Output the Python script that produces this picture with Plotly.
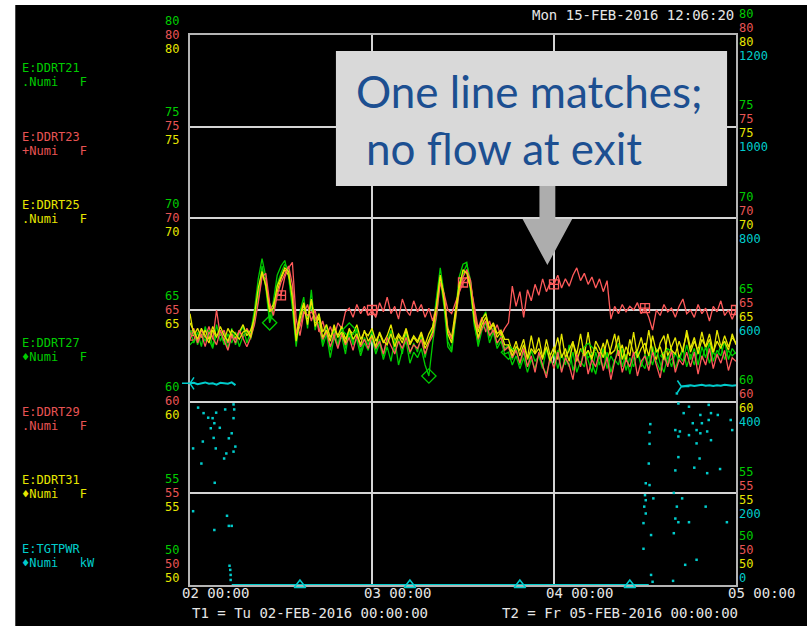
import pandas as pd
import plotly.graph_objects as go

# ---------------------------------------------------------------------------
# Archived readings, one sample every 30 minutes from 02-FEB-2016 00:00
# (12 samples = 6 hours per row, final sample at 05-FEB-2016 00:00)
# ---------------------------------------------------------------------------
STEP_H = 0.5
T1 = pd.Timestamp("2016-02-02 00:00:00")

ddrt21 = [
    63.9, 63.2, 63.8, 63.0, 64.1, 63.4, 62.9, 64.2, 63.3, 63.8, 62.9, 64.0,
    63.1, 63.7, 64.1, 63.2, 63.8, 65.0, 66.7, 67.8, 66.8, 64.4, 65.5, 66.9,
    67.4, 67.7, 66.8, 65.1, 63.0, 64.9, 65.7, 64.0, 66.1, 63.9, 64.8, 63.2,
    64.2, 62.8, 63.9, 63.1, 64.1, 62.9, 63.8, 63.2, 64.0, 62.7, 63.5, 63.1,
    63.9, 62.8, 63.4, 62.5, 63.3, 63.9, 62.7, 63.4, 62.6, 63.8, 62.6, 63.2,
    62.7, 63.6, 62.4, 63.3, 64.0, 65.6, 67.3, 65.9, 63.3, 62.8, 65.0, 66.8,
    67.5, 67.6, 66.0, 64.1, 63.2, 64.5, 64.9, 63.5, 64.0, 63.1, 63.6, 62.9,
    63.0, 62.3, 62.9, 62.0, 62.7, 61.9, 62.8, 62.2, 62.5, 61.8, 62.9, 62.1,
    62.7, 61.8, 62.6, 62.0, 63.1, 61.7, 62.4, 62.0, 62.9, 62.2, 61.6, 62.7,
    62.0, 62.9, 61.8, 62.5, 62.1, 63.2, 61.9, 62.6, 61.5, 62.4, 62.8, 61.9,
    62.6, 62.0, 63.0, 62.2, 61.7, 62.7, 62.1, 62.9, 61.8, 62.5, 62.2, 63.1,
    62.3, 62.9, 62.0, 63.0, 62.4, 63.2, 62.2, 62.8, 62.5, 63.3, 62.3, 62.9,
    62.6,
]

ddrt23 = [
    63.6, 64.0, 63.3, 63.9, 63.5, 64.1, 63.4, 65.0, 63.6, 63.9, 63.2, 63.7,
    63.4, 63.9, 63.5, 64.0, 63.6, 64.4, 65.6, 66.9, 66.7, 65.2, 65.0, 65.9,
    65.8, 66.8, 67.3, 67.6, 64.5, 63.6, 64.8, 65.3, 64.4, 65.0, 63.8, 64.4,
    63.6, 64.1, 63.5, 64.3, 64.0, 64.9, 65.1, 64.6, 65.3, 64.8, 65.2, 64.7,
    65.0, 64.6, 65.4, 64.9, 65.7, 64.8, 65.2, 64.5, 65.6, 65.0, 64.7, 65.5,
    64.9, 65.3, 64.6, 65.1, 64.4, 65.2, 66.6, 65.9, 65.0, 64.8, 65.4, 66.0,
    66.5, 66.8, 66.3, 65.2, 64.0, 64.6, 63.8, 64.4, 63.7, 64.2, 63.6, 64.0,
    64.3, 66.3, 65.2, 66.0, 64.6, 66.1, 65.5, 66.4, 65.8, 66.7, 66.0, 66.5,
    66.4, 66.9, 66.2, 66.7, 66.3, 66.9, 67.3, 66.6, 67.0, 66.4, 66.8, 66.2,
    66.7, 66.0, 66.6, 64.5, 65.2, 64.8, 65.3, 64.9, 65.2, 65.0, 65.4, 64.8,
    65.1, 64.6, 63.9, 65.0, 64.7, 65.3, 64.9, 65.1, 64.6, 65.2, 65.6, 64.8,
    65.0, 64.6, 65.3, 64.8, 65.1, 64.4, 65.2, 64.9, 65.5, 64.7, 65.0, 64.5,
    65.0,
]

ddrt25 = [
    64.8, 63.6, 64.0, 63.5, 63.9, 63.4, 64.1, 63.6, 63.8, 63.3, 64.0, 63.6,
    63.5, 63.8, 64.2, 63.6, 63.9, 64.5, 65.9, 67.0, 66.4, 65.0, 65.3, 66.0,
    66.7, 67.2, 66.9, 65.9, 63.6, 64.7, 65.4, 64.5, 65.5, 64.3, 64.8, 63.8,
    64.2, 63.5, 64.0, 63.6, 64.1, 63.4, 63.9, 63.7, 64.2, 63.4, 63.8, 63.6,
    64.0, 63.3, 63.7, 63.2, 63.6, 64.2, 63.3, 63.7, 63.4, 64.0, 63.2, 63.6,
    63.3, 63.8, 63.1, 63.7, 64.1, 65.1, 66.8, 65.8, 64.0, 63.5, 64.9, 66.4,
    67.0, 67.1, 66.5, 64.8, 63.8, 64.5, 64.8, 64.0, 64.3, 63.7, 63.9, 63.4,
    63.4, 62.7, 63.3, 62.5, 63.1, 62.4, 63.6, 62.6, 62.9, 62.3, 63.4, 62.5,
    63.0, 62.3, 63.7, 62.4, 62.8, 63.3, 62.2, 62.9, 62.5, 63.8, 62.4, 63.0,
    62.5, 63.2, 62.3, 62.9, 63.7, 62.5, 63.1, 62.2, 63.4, 62.6, 62.8, 63.5,
    62.6, 63.9, 62.7, 62.3, 63.2, 63.6, 62.5, 63.0, 63.5, 62.4, 62.9, 63.7,
    62.7, 63.3, 62.8, 63.8, 62.9, 63.4, 62.6, 63.9, 63.0, 63.3, 62.8, 63.7,
    63.1,
]

ddrt27 = [
    63.5, 63.9, 63.1, 63.7, 63.3, 63.9, 63.0, 63.6, 63.8, 63.1, 63.7, 63.2,
    63.8, 63.0, 63.6, 63.9, 63.4, 64.3, 65.8, 67.4, 66.2, 64.3, 64.9, 66.4,
    67.0, 67.5, 67.2, 65.6, 63.2, 64.3, 65.0, 64.6, 65.2, 64.4, 64.3, 63.0,
    63.7, 62.4, 63.5, 63.0, 63.6, 62.6, 63.9, 63.1, 63.4, 62.5, 63.2, 62.8,
    63.5, 62.6, 63.2, 62.3, 63.0, 62.2, 63.4, 62.0, 62.8, 63.3, 62.1, 62.7,
    62.4, 62.9, 62.0, 61.4, 63.2, 64.6, 66.7, 65.2, 63.0, 62.7, 64.4, 66.1,
    67.0, 67.5, 66.6, 64.3, 63.0, 63.9, 64.3, 63.2, 63.8, 62.9, 63.3, 62.6,
    62.7, 62.0, 62.5, 61.8, 62.4, 61.6, 62.3, 61.8, 62.6, 61.9, 61.5, 62.3,
    62.0, 62.8, 61.7, 62.4, 61.9, 62.7, 61.6, 62.2, 61.9, 62.8, 62.1, 61.5,
    62.5, 61.8, 62.7, 61.6, 62.3, 62.0, 62.9, 61.7, 62.4, 61.9, 62.7, 62.1,
    61.8, 62.6, 62.0, 62.9, 62.1, 61.6, 62.5, 61.9, 62.7, 62.2, 62.9, 61.9,
    62.6, 62.0, 62.9, 62.3, 63.0, 62.1, 62.7, 62.4, 63.1, 62.3, 62.8, 62.5,
    62.7,
]

ddrt29 = [
    63.4, 63.9, 63.2, 63.7, 63.0, 63.8, 63.5, 63.1, 63.9, 63.4, 62.8, 63.6,
    63.2, 63.9, 63.4, 63.0, 63.5, 64.2, 65.4, 66.8, 67.0, 65.4, 64.7, 65.8,
    66.5, 67.0, 67.4, 66.4, 63.7, 64.1, 64.9, 64.7, 64.9, 64.6, 64.0, 63.4,
    63.8, 63.0, 63.6, 62.9, 63.7, 63.1, 63.5, 62.8, 63.6, 63.0, 63.4, 62.9,
    63.6, 62.9, 63.3, 62.6, 63.5, 63.0, 62.6, 63.3, 62.9, 63.5, 62.7, 63.1,
    62.9, 63.4, 62.6, 63.2, 63.6, 64.7, 66.5, 65.8, 63.9, 63.4, 64.5, 66.0,
    66.8, 67.2, 66.6, 64.9, 63.4, 64.0, 64.4, 63.6, 63.9, 63.2, 63.5, 62.8,
    63.0, 62.4, 62.8, 62.1, 62.9, 61.9, 62.5, 61.6, 62.7, 62.0, 61.3, 62.5,
    61.8, 62.7, 61.6, 62.4, 62.0, 61.2, 62.6, 61.9, 62.8, 61.5, 62.3, 61.9,
    62.7, 61.7, 62.4, 61.2, 62.2, 62.8, 61.6, 62.3, 61.9, 62.7, 61.4, 62.2,
    62.5, 61.7, 62.7, 62.0, 61.3, 62.6, 61.9, 62.8, 61.6, 62.3, 62.0, 62.7,
    61.9, 62.7, 61.5, 62.5, 62.0, 62.9, 61.8, 62.6, 62.1, 62.8, 61.7, 62.4,
    62.2,
]

ddrt31 = [
    64.3, 63.8, 63.4, 64.0, 63.6, 63.2, 63.9, 63.5, 64.1, 63.6, 63.3, 63.9,
    63.7, 63.4, 63.8, 63.9, 63.5, 64.7, 66.2, 67.1, 66.3, 64.9, 65.1, 66.3,
    66.8, 67.3, 67.1, 65.6, 63.3, 64.5, 65.3, 64.2, 65.6, 64.1, 64.6, 63.5,
    63.9, 63.3, 64.2, 63.5, 63.8, 63.2, 64.0, 63.4, 63.7, 63.1, 63.9, 63.3,
    63.6, 63.0, 63.8, 63.3, 63.1, 63.7, 63.0, 63.6, 63.2, 63.9, 63.1, 63.5,
    63.2, 63.7, 62.9, 63.4, 63.8, 65.2, 66.9, 65.5, 63.7, 63.2, 64.7, 66.2,
    67.2, 67.0, 66.2, 64.4, 63.5, 64.2, 64.6, 63.9, 64.2, 63.5, 63.8, 63.1,
    63.1, 62.5, 63.0, 62.8, 63.4, 62.3, 62.9, 62.6, 63.5, 62.4, 63.0, 62.2,
    62.7, 63.5, 62.4, 62.9, 62.2, 63.2, 62.6, 63.7, 62.5, 62.8, 62.3, 63.3,
    62.9, 62.4, 63.4, 62.6, 62.8, 63.6, 62.3, 63.0, 62.5, 63.8, 62.4, 62.9,
    63.2, 62.5, 63.6, 62.7, 63.0, 62.3, 63.7, 62.8, 62.6, 63.3, 62.7, 63.9,
    62.9, 63.5, 62.6, 63.4, 63.0, 63.7, 62.7, 63.3, 62.9, 63.6, 63.0, 63.5,
    63.2,
]

# Target power: beam on at start and end, off in between (None = gap)
tgt_hours = [0.0, 0.5, 1.0, 1.5, 2.0, 2.5, 3.0, 3.5, 4.0, 4.5, 5.0, 5.5, 6.0,
             None, 5.5, 60.5,
             None, 64.8, 65.5, 66.0, 66.5, 67.0, 67.5, 68.0, 68.5, 69.0, 69.5,
             70.0, 70.5, 71.0, 71.5, 72.0]
tgt_kw = [440, 441, 438, 440, 442, 439, 440, 437, 441, 440, 439, 442, 436,
          None, 0, 0,
          None, 433, 435, 436, 434, 436, 437, 435, 436, 434, 436,
          435, 437, 436, 435, 436]
tgt_mark_hours = [0.0, 14.5, 29.0, 43.5, 58.0, 64.8]
tgt_mark_kw = [440, 0, 0, 0, 0, 433]
tgt_mark_symbols = ["y-left-open", "triangle-up-open", "triangle-up-open",
                    "triangle-up-open", "triangle-up-open", "y-right-open"]

# Isolated target power readings during the beam trips
trip_hours = [1.07, 1.79, 2.40, 3.45, 4.64, 5.83, 5.74, 2.98, 3.21, 3.93, 2.74,
              5.74, 5.50, 5.12, 3.12, 1.69, 3.40, 0.41, 4.79, 5.74, 5.98, 4.50,
              1.50, 3.26, 0.41, 4.88, 5.12, 5.50, 3.21, 5.21, 5.31, 5.36, 5.36,
              60.7, 60.6, 60.6, 60.5, 60.1, 60.6, 60.0, 60.1, 61.1, 59.9, 60.1,
              59.8, 60.8, 59.8, 60.8, 61.0,
              64.2, 64.4, 65.1, 65.8, 67.3, 68.4, 68.7, 66.3, 67.5, 68.4, 69.6,
              71.3, 71.5, 64.0, 64.6, 66.8, 67.3, 68.2, 64.4, 65.8, 66.8, 68.7,
              69.9, 68.2, 66.5, 64.4, 64.0, 67.2, 63.8, 64.9, 64.2, 64.0, 64.4,
              65.8, 68.0, 70.8, 63.8, 66.8, 65.3, 63.7]
trip_kw = [387, 375, 365, 376, 383, 383, 394, 364, 353, 343, 342,
           364, 331, 320, 321, 313, 298, 298, 287, 291, 302, 276,
           265, 223, 161, 151, 129, 129, 120, 42, 33, 22, 11,
           351, 333, 308, 265, 222, 218, 196, 185, 189, 171, 156,
           135, 109, 79, 22, 7,
           418, 396, 375, 389, 371, 393, 375, 353, 353, 360, 371,
           360, 338, 338, 335, 338, 331, 335, 324, 327, 309, 316,
           253, 244, 256, 279, 250, 276, 201, 189, 171, 145, 137,
           137, 171, 137, 113, 55, 44, 9]

# Axis ticks
temp_ticks = [50, 55, 60, 65, 70, 75, 80]
kw_ticks = [0, 200, 400, 600, 800, 1000, 1200]
day_ticks = ["2016-02-02", "2016-02-03", "2016-02-04", "2016-02-05"]

# Legend block
legend_names = ["E:DDRT21", "E:DDRT23", "E:DDRT25", None, "E:DDRT27",
                "E:DDRT29", "E:DDRT31", "E:TGTPWR"]
legend_units = [".Numi   F", "+Numi   F", ".Numi   F", None, "\u2666Numi   F",
                ".Numi   F", "\u2666Numi   F", "\u2666Numi   kW"]

GREEN = "#00cc00"
RED = "#ff5a5a"
RED_TXT = "#e85454"
YELLOW = "#e6e600"
CYAN = "#00cccc"
WHITE = "#e6e6e6"
MONO = "DejaVu Sans Mono"
SMALL = 12

legend_colors = [GREEN, RED_TXT, YELLOW, None, GREEN, RED_TXT, YELLOW, CYAN]

# ---------------------------------------------------------------------------
# Figure geometry (pixels)
# ---------------------------------------------------------------------------
W, H = 807, 626
L, R, T, B = 190, 740, 35, 585
PW, PH = R - L, B - T


def px(x):
    return (x - L) / PW


def py(y):
    return (B - y) / PH


def to_time(h_list):
    return [None if h is None else T1 + pd.Timedelta(hours=h) for h in h_list]


def nbsp(s):
    return s.replace(" ", "\u00a0")


n = len(ddrt21)
times = to_time([i * STEP_H for i in range(n)])

fig = go.Figure()

series = [
    ("E:DDRT21", ddrt21, GREEN, None, 0),
    ("E:DDRT23", ddrt23, RED, "square-cross-open", 24),
    ("E:DDRT25", ddrt25, YELLOW, None, 0),
    ("E:DDRT27", ddrt27, GREEN, "diamond-open", 21),
    ("E:DDRT29", ddrt29, RED, None, 0),
    ("E:DDRT31", ddrt31, YELLOW, None, 0),
]
for name, vals, col, sym, every in series:
    fig.add_trace(go.Scatter(x=times, y=vals, mode="lines", name=name,
                             line=dict(color=col, width=1.3)))
    if sym:
        fig.add_trace(go.Scatter(
            x=times[::every], y=vals[::every], mode="markers", name=name,
            marker=dict(symbol=sym, size=11 if "diamond" in sym else 9,
                        color=col, line=dict(color=col, width=1.3))))

fig.add_trace(go.Scatter(x=to_time(trip_hours), y=trip_kw, mode="markers",
                         yaxis="y2", name="E:TGTPWR",
                         marker=dict(symbol="square", size=2.5, color=CYAN)))
fig.add_trace(go.Scatter(x=to_time(tgt_hours), y=tgt_kw, mode="lines",
                         yaxis="y2", name="E:TGTPWR", connectgaps=False,
                         line=dict(color=CYAN, width=2)))
fig.add_trace(go.Scatter(x=to_time(tgt_mark_hours), y=tgt_mark_kw,
                         mode="markers", yaxis="y2", name="E:TGTPWR",
                         cliponaxis=False,
                         marker=dict(symbol=tgt_mark_symbols, size=10,
                                     color=CYAN, line=dict(color=CYAN, width=1.5))))

annotations = []

# Stacked colour-coded scale labels, left side (three temperature scales)
left_off = [14.5, 0.5, -13.5]
for v in temp_ticks:
    extra = 21 if v == temp_ticks[0] else 0
    for col, off in zip([GREEN, RED_TXT, YELLOW], left_off):
        annotations.append(dict(x=px(181), xref="paper", y=v, yref="y",
                                xanchor="right", yanchor="middle",
                                yshift=off + extra, showarrow=False,
                                text=str(v), font=dict(family=MONO, size=SMALL, color=col)))

# Right side: three temperature scales plus the power scale
right_off = [21.5, 7.5, -6.5, -20.5]
for v, kw in zip(temp_ticks, kw_ticks):
    extra = 28 if v == temp_ticks[0] else 0
    for col, off, ref, val in zip([GREEN, RED_TXT, YELLOW, CYAN], right_off,
                                  ["y", "y", "y", "y2"], [v, v, v, kw]):
        annotations.append(dict(x=px(741), xref="paper", y=val, yref=ref,
                                xanchor="left", yanchor="middle",
                                yshift=off + extra, showarrow=False,
                                text=str(val), font=dict(family=MONO, size=SMALL, color=col)))

# Legend block on the left
for i, (nm, un, col) in enumerate(zip(legend_names, legend_units, legend_colors)):
    if nm is None:
        continue
    y0 = 68 + 68.7 * i
    annotations.append(dict(x=px(19), xref="paper", y=py(y0), yref="paper",
                            xanchor="left", yanchor="middle", showarrow=False,
                            text=nm, font=dict(family=MONO, size=SMALL, color=col)))
    annotations.append(dict(x=px(19), xref="paper", y=py(y0 + 14), yref="paper",
                            xanchor="left", yanchor="middle", showarrow=False,
                            text=nbsp(un), font=dict(family=MONO, size=SMALL, color=col)))

# Header time stamp and time window
annotations.append(dict(x=px(740), xref="paper", y=py(15), yref="paper",
                        xanchor="right", yanchor="middle", showarrow=False,
                        text="Mon 15-FEB-2016 12:06:20",
                        font=dict(family=MONO, size=14, color=WHITE)))
annotations.append(dict(x=px(190), xref="paper", y=py(613), yref="paper",
                        xanchor="left", yanchor="middle", showarrow=False,
                        text=nbsp("T1 = Tu 02-FEB-2016 00:00:00"),
                        font=dict(family=MONO, size=14, color=WHITE)))
annotations.append(dict(x=px(502), xref="paper", y=py(613), yref="paper",
                        xanchor="left", yanchor="middle", showarrow=False,
                        text=nbsp("T2 = Fr 05-FEB-2016 00:00:00"),
                        font=dict(family=MONO, size=14, color=WHITE)))

# Callout text
BLUE = "#1c4f91"
annotations.append(dict(x=px(355), xref="paper", y=py(91), yref="paper",
                        xanchor="left", yanchor="middle", showarrow=False,
                        text="One line matches;",
                        font=dict(family="Lato", size=44, color=BLUE)))
annotations.append(dict(x=px(365), xref="paper", y=py(148), yref="paper",
                        xanchor="left", yanchor="middle", showarrow=False,
                        text="no flow at exit",
                        font=dict(family="Lato", size=44, color=BLUE)))

shapes = [
    # black screen area
    dict(type="rect", xref="paper", yref="paper", layer="below",
         x0=px(14), x1=px(W + 5), y0=py(H + 5), y1=py(5),
         fillcolor="black", line=dict(width=0)),
    # callout box
    dict(type="rect", xref="paper", yref="paper", layer="above",
         x0=px(337), x1=px(731), y0=py(186), y1=py(51),
         fillcolor="#d9d9d9", line=dict(width=0)),
    # arrow pointing at the lone high line
    dict(type="path", xref="paper", yref="paper", layer="above",
         path=(f"M {px(542)} {py(186)} L {px(558)} {py(186)} L {px(558)} {py(219)} "
               f"L {px(575)} {py(219)} L {px(550)} {py(265)} L {px(525)} {py(219)} "
               f"L {px(542)} {py(219)} Z"),
         fillcolor="#adadad", line=dict(width=0)),
]

fig.update_layout(
    width=W, height=H,
    margin=dict(l=L, r=W - R, t=T, b=H - B, pad=0),
    paper_bgcolor="white", plot_bgcolor="black",
    showlegend=False,
    xaxis=dict(type="date", range=[day_ticks[0], day_ticks[-1]],
               tickvals=day_ticks, tickformat="%d %H:%M",
               ticklabelposition="outside right", ticks="",
               ticklabelshift=-9, ticklabelstandoff=-6,
               tickfont=dict(family=MONO, size=14, color=WHITE),
               showgrid=True, gridcolor="#d4d4d4", gridwidth=1.5,
               showline=True, mirror=True, linecolor="#b4b4b4", linewidth=2,
               zeroline=False, layer="below traces"),
    yaxis=dict(range=[temp_ticks[0], temp_ticks[-1]], tickvals=temp_ticks,
               showticklabels=False, ticks="",
               showgrid=True, gridcolor="#d4d4d4", gridwidth=1.5,
               showline=True, mirror=True, linecolor="#b4b4b4", linewidth=2,
               zeroline=False, layer="below traces"),
    yaxis2=dict(range=[kw_ticks[0], kw_ticks[-1]], overlaying="y",
                showticklabels=False, showgrid=False, zeroline=False,
                showline=False),
    annotations=annotations,
    shapes=shapes,
)

fig.write_html("out.html")
